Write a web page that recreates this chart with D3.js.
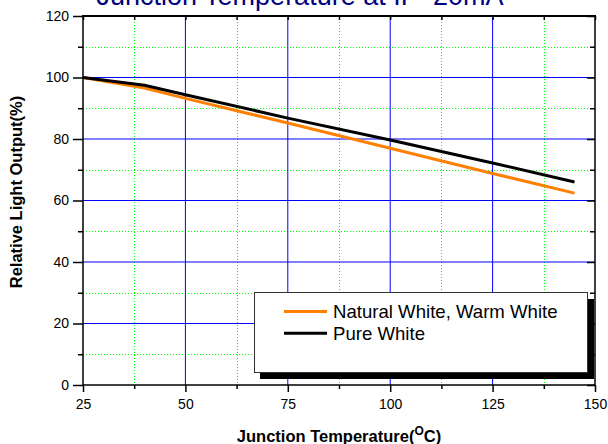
<!DOCTYPE html>
<html><head><meta charset="utf-8">
<script src="https://cdn.jsdelivr.net/npm/d3@7"></script>
<style>
html,body{margin:0;padding:0;background:#fff;}
svg{display:block;font-family:"Liberation Sans",Arial,sans-serif;}
</style></head>
<body>
<svg id="c" width="608" height="444"></svg>
<script>
const temps = [25, 40, 50, 75, 100, 125, 145];
const naturalWhite = [100, 96.6, 93.2, 85.2, 77.0, 68.8, 62.4];
const pureWhite = [100, 97.5, 94.4, 86.8, 79.7, 72.2, 66.0];
const xMajor = [25, 50, 75, 100, 125, 150];
const xMinor = [37.5, 62.5, 87.5, 112.5, 137.5];
const yMajor = [0, 20, 40, 60, 80, 100, 120];
const yMinor = [10, 30, 50, 70, 90, 110];
const seriesNames = ["Natural White, Warm White", "Pure White"];
const seriesColors = ["#ff8000", "#000000"];
const titleText = "Junction Temperature at IF=20mA";

(function () {
const svg = d3.select("#c");
const L = 83, R = 595, T = 16, B = 385;
const x = d3.scaleLinear().domain([25, 150]).range([L, R]);
const y = d3.scaleLinear().domain([0, 120]).range([B, T]);

// title (partially cut off at top, as in the reference)
svg.append("text").attr("x", 300).attr("y", 5).attr("text-anchor", "middle")
  .attr("font-size", 27).attr("fill", "#000080").text(titleText);

// grid minor
const g = svg.append("g");
g.selectAll(".vm").data(xMinor).join("line")
  .attr("x1", d => Math.round(x(d)) + 0.5).attr("x2", d => Math.round(x(d)) + 0.5)
  .attr("y1", T).attr("y2", B).attr("stroke", "#00ff00").attr("stroke-dasharray", "1,2");
g.selectAll(".hm").data(yMinor).join("line")
  .attr("y1", d => Math.round(y(d)) + 0.5).attr("y2", d => Math.round(y(d)) + 0.5)
  .attr("x1", L).attr("x2", R).attr("stroke", "#00ff00").attr("stroke-dasharray", "1,2");
// grid major
g.selectAll(".vM").data(xMajor.slice(1, -1)).join("line")
  .attr("x1", d => x(d)).attr("x2", d => x(d))
  .attr("y1", T).attr("y2", B).attr("stroke", "#0000ff").attr("stroke-width", 1);
g.selectAll(".hM").data(yMajor.slice(1, -1)).join("line")
  .attr("y1", d => y(d)).attr("y2", d => y(d))
  .attr("x1", L).attr("x2", R).attr("stroke", "#0000ff").attr("stroke-width", 1);

// data lines
const line = d3.line().x(d => x(d[0])).y(d => y(d[1]));
[naturalWhite, pureWhite].forEach((vals, i) => {
  svg.append("path").datum(temps.map((t, j) => [t, vals[j]]))
    .attr("d", line).attr("fill", "none").attr("stroke", seriesColors[i])
    .attr("stroke-width", 3).attr("stroke-linejoin", "round");
});

// frame
svg.append("rect").attr("x", L).attr("y", T).attr("width", R - L).attr("height", B - T)
  .attr("fill", "none").attr("stroke", "#000").attr("stroke-width", 1.5);
svg.append("line").attr("x1", L - 1).attr("x2", R + 1).attr("y1", T).attr("y2", T)
  .attr("stroke", "#000").attr("stroke-width", 2);

// axes
const tickFont = 14;
const aLeft = svg.append("g").attr("transform", `translate(${L},0)`)
  .call(d3.axisLeft(y).tickValues(yMajor).tickSize(10).tickPadding(4));
const aLeftMinor = svg.append("g").attr("transform", `translate(${L},0)`)
  .call(d3.axisLeft(y).tickValues(yMinor).tickSize(5).tickFormat(""));
const aBottom = svg.append("g").attr("transform", `translate(0,${B})`)
  .call(d3.axisBottom(x).tickValues(xMajor).tickSize(7).tickPadding(7));
const aBottomMinor = svg.append("g").attr("transform", `translate(0,${B})`)
  .call(d3.axisBottom(x).tickValues(xMinor).tickSize(4).tickFormat(""));
const aTop = svg.append("g").attr("transform", `translate(0,${T})`)
  .call(d3.axisBottom(x).tickValues(xMajor.concat(xMinor)).tickSize(4).tickFormat(""));
const aRight = svg.append("g").attr("transform", `translate(${R},0)`)
  .call(d3.axisLeft(y).tickValues(yMajor).tickSize(8).tickFormat(""));
const aRightMinor = svg.append("g").attr("transform", `translate(${R},0)`)
  .call(d3.axisLeft(y).tickValues(yMinor).tickSize(5).tickFormat(""));
[aLeft, aLeftMinor, aBottom, aBottomMinor, aTop, aRight, aRightMinor].forEach(a => {
  a.select(".domain").remove();
  a.selectAll("line").attr("stroke", "#000").attr("stroke-width", 1.5);
  a.selectAll("text").attr("font-size", tickFont).attr("fill", "#000")
    .attr("font-family", "Liberation Sans, Arial, sans-serif");
});

// axis titles
svg.append("text").attr("transform", "translate(22,192) rotate(-90)")
  .attr("text-anchor", "middle").attr("font-size", 16.5).attr("font-weight", "bold")
  .text("Relative Light Output(%)");
const xt = svg.append("text").attr("x", 339).attr("y", 442).attr("text-anchor", "middle")
  .attr("font-size", 16.5).attr("font-weight", "bold");
xt.append("tspan").text("Junction Temperature(");
xt.append("tspan").attr("font-size", 12).attr("dy", -7).text("O");
xt.append("tspan").attr("dy", 7).text("C)");

// legend
const lg = svg.append("g");
lg.append("rect").attr("x", 260).attr("y", 299).attr("width", 334).attr("height", 80).attr("fill", "#000");
lg.append("rect").attr("x", 254.5).attr("y", 292.5).attr("width", 333).attr("height", 80)
  .attr("fill", "#fff").attr("stroke", "#333").attr("stroke-width", 1);
seriesNames.forEach((n, i) => {
  const yy = 311.5 + i * 21.7;
  lg.append("line").attr("x1", 284).attr("x2", 327).attr("y1", yy).attr("y2", yy)
    .attr("stroke", seriesColors[i]).attr("stroke-width", 3);
  lg.append("text").attr("x", 333).attr("y", yy + 6.5).attr("font-size", 18.6).text(n);
});
})();
</script>
</body></html>
